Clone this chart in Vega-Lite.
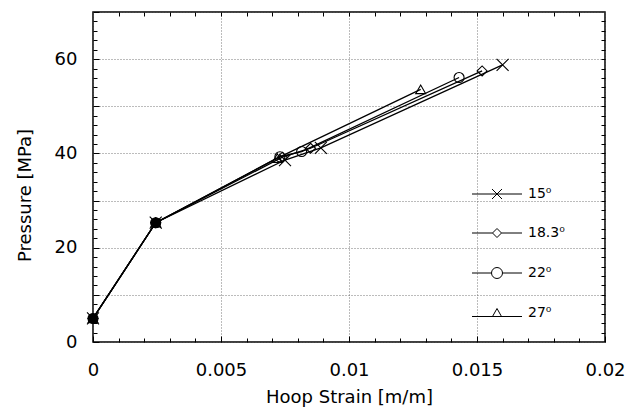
{
  "$schema": "https://vega.github.io/schema/vega-lite/v6.json",
  "width": 512,
  "height": 330,
  "autosize": "none",
  "padding": {"left": 93, "top": 12, "right": 31, "bottom": 65},
  "background": "white",
  "config": {
    "font": "DejaVu Sans",
    "view": {"stroke": "black", "strokeWidth": 1.5},
    "axis": {
      "labelFont": "DejaVu Sans",
      "titleFont": "DejaVu Sans",
      "labelFontSize": 18,
      "titleFontSize": 18,
      "titleFontWeight": "normal",
      "labelColor": "black",
      "titleColor": "black",
      "tickColor": "black",
      "domainColor": "black",
      "gridColor": "#555",
      "gridDash": [1, 2],
      "gridWidth": 0.8,
      "labelFlush": false
    }
  },
  "data": {
    "values": [
      {"series": "15⁰", "strain": 0, "pressure": 5},
      {"series": "15⁰", "strain": 0.00245, "pressure": 25.3},
      {"series": "15⁰", "strain": 0.0075, "pressure": 38.6},
      {"series": "15⁰", "strain": 0.0089, "pressure": 41.2},
      {"series": "15⁰", "strain": 0.0160, "pressure": 58.8},
      {"series": "18.3⁰", "strain": 0, "pressure": 5},
      {"series": "18.3⁰", "strain": 0.00245, "pressure": 25.3},
      {"series": "18.3⁰", "strain": 0.0074, "pressure": 39.2},
      {"series": "18.3⁰", "strain": 0.0085, "pressure": 41.1},
      {"series": "18.3⁰", "strain": 0.0152, "pressure": 57.5},
      {"series": "22⁰", "strain": 0, "pressure": 5},
      {"series": "22⁰", "strain": 0.00245, "pressure": 25.3},
      {"series": "22⁰", "strain": 0.0073, "pressure": 39.3},
      {"series": "22⁰", "strain": 0.00815, "pressure": 40.4},
      {"series": "22⁰", "strain": 0.0143, "pressure": 56.1},
      {"series": "27⁰", "strain": 0, "pressure": 5},
      {"series": "27⁰", "strain": 0.00245, "pressure": 25.3},
      {"series": "27⁰", "strain": 0.0072, "pressure": 39.0},
      {"series": "27⁰", "strain": 0.0128, "pressure": 53.6}
    ]
  },
  "resolve": {"axis": {"x": "independent", "y": "independent"}, "scale": {"shape": "independent"}},
  "layer": [
    {
      "mark": {"type": "line", "color": "black", "strokeWidth": 1.3},
      "encoding": {
        "x": {
          "field": "strain", "type": "quantitative",
          "scale": {"domain": [0, 0.02], "nice": false, "zero": false},
          "axis": {
            "orient": "bottom",
            "values": [0, 0.005, 0.01, 0.015, 0.02],
            "format": "~g",
            "grid": true,
            "tickSize": -6,
            "labelPadding": 25,
            "titleY": 46,
            "domain": false,
            "title": "Hoop Strain [m/m]"
          }
        },
        "y": {
          "field": "pressure", "type": "quantitative",
          "scale": {"domain": [0, 70], "nice": false},
          "axis": {
            "orient": "left",
            "values": [0, 10, 20, 30, 40, 50, 60, 70],
            "labelExpr": "datum.value % 20 == 0 && datum.value < 70 ? datum.label : ''",
            "grid": true,
            "tickSize": -6,
            "labelPadding": 22,
            "titleX": -59,
            "titleY": 183,
            "domain": false,
            "title": "Pressure [MPa]"
          }
        },
        "detail": {"field": "series"},
        "order": {"field": "strain", "type": "quantitative"}
      }
    },
    {
      "mark": {"type": "point", "filled": false, "color": "black", "strokeWidth": 1.1, "size": 100, "opacity": 1},
      "encoding": {
        "x": {
          "field": "strain", "type": "quantitative",
          "axis": {
            "orient": "bottom",
            "values": [0.001, 0.002, 0.003, 0.004, 0.006, 0.007, 0.008, 0.009, 0.011, 0.012, 0.013, 0.014, 0.016, 0.017, 0.018, 0.019],
            "labels": false, "grid": false, "domain": false, "tickSize": -4, "title": null
          }
        },
        "y": {
          "field": "pressure", "type": "quantitative",
          "axis": {
            "orient": "left",
            "values": [2, 4, 6, 8, 12, 14, 16, 18, 22, 24, 26, 28, 32, 34, 36, 38, 42, 44, 46, 48, 52, 54, 56, 58, 62, 64, 66, 68],
            "labels": false, "grid": false, "domain": false, "tickSize": -4, "title": null
          }
        },
        "shape": {
          "field": "series", "type": "nominal",
          "scale": {
            "domain": ["15⁰", "18.3⁰", "22⁰", "27⁰"],
            "range": ["M-1.2,-1.2L1.2,1.2M-1.2,1.2L1.2,-1.2", "diamond", "circle", "triangle-up"]
          },
          "legend": null
        }
      }
    },
    {
      "transform": [{"filter": "datum.strain < 0.003 && datum.series == '15⁰'"}],
      "mark": {"type": "point", "filled": true, "color": "black", "size": 110, "opacity": 1},
      "encoding": {
        "x": {
          "field": "strain", "type": "quantitative",
          "axis": {
            "orient": "top",
            "values": [0.001, 0.002, 0.003, 0.004, 0.005, 0.006, 0.007, 0.008, 0.009, 0.01, 0.011, 0.012, 0.013, 0.014, 0.015, 0.016, 0.017, 0.018, 0.019],
            "labels": false, "grid": false, "domain": false, "tickSize": -4, "title": null
          }
        },
        "y": {
          "field": "pressure", "type": "quantitative",
          "axis": {
            "orient": "right",
            "values": [2, 4, 6, 8, 10, 12, 14, 16, 18, 20, 22, 24, 26, 28, 30, 32, 34, 36, 38, 40, 42, 44, 46, 48, 50, 52, 54, 56, 58, 60, 62, 64, 66, 68],
            "labels": false, "grid": false, "domain": false, "tickSize": -4, "title": null
          }
        }
      }
    },
    {
      "transform": [{"filter": "datum.strain < 0"}],
      "mark": {"type": "point", "filled": false, "color": "black", "strokeWidth": 1, "opacity": 1},
      "encoding": {
        "shape": {
          "field": "series", "type": "nominal",
          "scale": {
            "domain": ["15⁰", "18.3⁰", "22⁰", "27⁰"],
            "range": [
              "M-5,0H5M-1,-1L1,1M-1,1L1,-1",
              "M-5,0H-0.9M0.9,0H5M-0.9,0L0,-0.9L0.9,0L0,0.9Z",
              "M-5,0H-1.1M1.1,0H5M-1.1,0A1.1,1.1 0 1,0 1.1,0A1.1,1.1 0 1,0 -1.1,0",
              "M-5,0.7H5M-0.9,0.7L0,-0.9L0.9,0.7Z"
            ]
          },
          "legend": {
            "orient": "none",
            "legendX": 397,
            "legendY": 175,
            "title": null,
            "labelFontSize": 14,
            "labelFont": "DejaVu Sans",
            "labelColor": "black",
            "labelOffset": 24,
            "symbolSize": 100,
            "symbolStrokeColor": "black",
            "symbolFillColor": "transparent",
            "symbolStrokeWidth": 1,
            "rowPadding": 25
          }
        }
      }
    }
  ]
}
